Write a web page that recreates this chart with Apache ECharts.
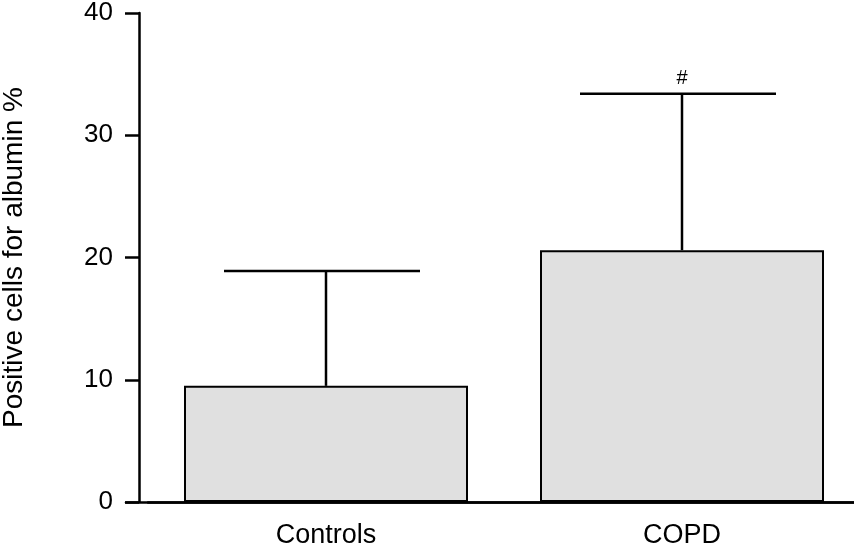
<!DOCTYPE html>
<html><head><meta charset="utf-8">
<script src="https://cdn.jsdelivr.net/npm/echarts@6/dist/echarts.min.js"></script>
<style>html,body{margin:0;padding:0;background:#fff}#c{width:854px;height:547px}</style>
</head><body><div id="c"></div>
<script>
const categories = ['Controls', 'COPD'];
const means = [9.5, 20.6];
const upperErr = [18.9, 33.4];
const annotations = ['', '#'];
const yTicks = [0, 10, 20, 30, 40];

const chart = echarts.init(document.getElementById('c'));
const font = 'Liberation Sans, Arial, sans-serif';
chart.setOption({
  animation: false,
  grid: [
    {left: 148, right: -6, top: 13, bottom: 45, outerBoundsMode: 'none', containLabel: false},
    {left: 126, right: 0, top: 13, bottom: 45, outerBoundsMode: 'none', containLabel: false}
  ],
  xAxis: [
    {type: 'category', data: categories, gridIndex: 0,
     axisLine: {lineStyle: {color: '#000', width: 2.5}},
     axisTick: {alignWithLabel: true, length: 8, lineStyle: {color: '#000', width: 2.5}},
     axisLabel: {color: '#000', fontSize: 27, fontFamily: font, margin: 20}},
    {type: 'value', gridIndex: 1, min: 0, max: 1,
     axisLine: {show: true, lineStyle: {color: '#000', width: 2.5}},
     axisTick: {show: false}, axisLabel: {show: false}, splitLine: {show: false}}
  ],
  yAxis: [
    {type: 'value', gridIndex: 0, min: yTicks[0], max: yTicks[yTicks.length - 1], interval: 10,
     offset: 9,
     name: 'Positive cells for albumin %', nameLocation: 'middle', nameRotate: 90, nameGap: 111,
     nameTextStyle: {color: '#000', fontSize: 28, fontFamily: font},
     axisLine: {show: true, lineStyle: {color: '#000', width: 2.5}},
     axisTick: {show: true, length: 14, lineStyle: {color: '#000', width: 2.5}},
     axisLabel: {color: '#000', fontSize: 26, fontFamily: font, margin: 26},
     splitLine: {show: false}},
    {type: 'value', gridIndex: 1, min: 0, max: 40, show: false}
  ],
  series: [
    {type: 'bar', xAxisIndex: 0, yAxisIndex: 0, data: means, barWidth: 284,
     itemStyle: {color: '#e0e0e0', borderColor: '#000', borderWidth: 2}, z: 2},
    {type: 'custom', xAxisIndex: 0, yAxisIndex: 0, z: 3,
     data: categories.map((c, i) => [i, means[i], upperErr[i]]),
     renderItem: function (params, api) {
       const i = api.value(0);
       const base = api.coord([i, api.value(1)]);
       const top = api.coord([i, api.value(2)]);
       const ls = {stroke: '#000', lineWidth: 2.5};
       const children = [
         {type: 'line', shape: {x1: base[0], y1: base[1], x2: top[0], y2: top[1]}, style: ls},
         {type: 'line', shape: {x1: top[0] - 102, y1: top[1], x2: top[0] + 94, y2: top[1]}, style: ls}
       ];
       if (annotations[i]) {
         children.push({type: 'text', x: top[0], y: top[1] - 5,
           style: {text: annotations[i], fill: '#000', font: '20px ' + font, align: 'center', verticalAlign: 'bottom'}});
       }
       return {type: 'group', children: children};
     }}
  ]
});
</script></body></html>
